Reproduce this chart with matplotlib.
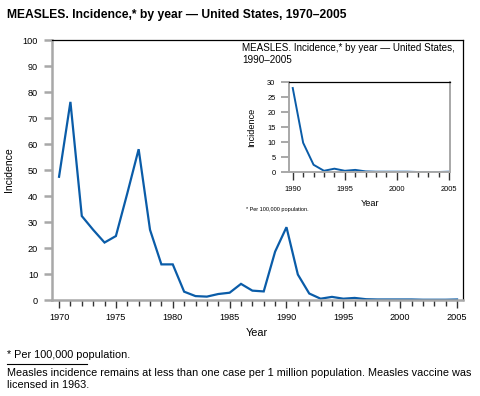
import matplotlib
matplotlib.use("Agg")
import matplotlib.pyplot as plt
from matplotlib.ticker import MultipleLocator

plt.rcParams['font.family'] = ['Liberation Sans', 'DejaVu Sans']

years = list(range(1970, 2006))
incidence = [47.4, 76.2, 32.3, 27.0, 22.1, 24.6, 41.0, 58.0, 27.0, 13.7,
             13.7, 3.2, 1.5, 1.3, 2.3, 2.8, 6.2, 3.6, 3.3, 18.6,
             28.0, 9.8, 2.5, 0.5, 1.2, 0.5, 0.8, 0.3, 0.2, 0.2,
             0.2, 0.2, 0.1, 0.1, 0.1, 0.2]

inset_years = years[20:]
inset_incidence = incidence[20:]

blue = '#0a5ca8'
gray = '#a8a8a8'

fig = plt.figure(figsize=(4.8, 3.96), dpi=100)

fig.text(7/480, 1-15/396, 'MEASLES. Incidence,* by year \u2014 United States, 1970\u20132005',
         fontsize=8.7, fontweight='bold', va='center', ha='left')


def style_axes(ax, ticklen, minorlen, fs, lw, pad):
    ax.spines['top'].set_color('black')
    ax.spines['top'].set_linewidth(0.9)
    ax.spines['left'].set_color(gray)
    ax.spines['left'].set_linewidth(lw)
    ax.spines['bottom'].set_color(gray)
    ax.spines['bottom'].set_linewidth(lw)
    ax.tick_params(axis='x', which='major', length=ticklen, width=1, color='#333333',
                   labelsize=fs, pad=pad, direction='out')
    ax.tick_params(axis='x', which='minor', length=minorlen, width=1, color='#333333',
                   direction='out')
    ax.tick_params(axis='y', which='major', length=ticklen, width=lw, color=gray,
                   labelsize=fs, pad=4, direction='out')


# main chart
ax = fig.add_axes([52/480, 1-300/396, 410.5/480, 260/396])
ax.plot(years, incidence, color=blue, lw=1.6, solid_joinstyle='miter')
ax.set_xlim(1969.38, 2005.48)
ax.set_ylim(0, 100)
ax.xaxis.set_major_locator(MultipleLocator(5))
ax.xaxis.set_minor_locator(MultipleLocator(1))
ax.yaxis.set_major_locator(MultipleLocator(10))
style_axes(ax, 6, 4, 6.6, 1.8, 3)
ax.spines['right'].set_color('black')
ax.spines['right'].set_linewidth(0.9)
ax.set_xlabel('Year', fontsize=7.8, labelpad=5)
ax.set_ylabel('Incidence', fontsize=7.5, labelpad=6)

# inset chart
ins = fig.add_axes([289.3/480, 1-172.3/396, 160.7/480, 90.3/396])
ins.plot(inset_years, inset_incidence, color=blue, lw=1.4)
ins.set_xlim(1989.67, 2005.1)
ins.set_ylim(0, 30)
ins.xaxis.set_major_locator(MultipleLocator(5))
ins.xaxis.set_minor_locator(MultipleLocator(1))
ins.yaxis.set_major_locator(MultipleLocator(5))
style_axes(ins, 6, 3.5, 5.4, 1.4, 4)
ins.spines['right'].set_color(gray)
ins.spines['right'].set_linewidth(1.4)
ins.set_xlabel('Year', fontsize=6.6, labelpad=4)
ins.set_ylabel('Incidence', fontsize=6.6, labelpad=8)

fig.text(242/480, 1-54/396, 'MEASLES. Incidence,* by year \u2014 United States,\n1990\u20132005',
         fontsize=7.1, va='center', ha='left', linespacing=1.3)
fig.text(246/480, 1-209/396, '* Per 100,000 population.', fontsize=4,
         va='center', ha='left')

# footnotes
fig.text(7/480, 1-355/396, '* Per 100,000 population.', fontsize=7.8, va='center', ha='left')
fig.add_artist(plt.Line2D([7/480, 87/480], [1-364/396, 1-364/396], color='black', lw=0.8))
fig.text(7/480, 1-379/396,
         'Measles incidence remains at less than one case per 1 million population. Measles vaccine was\n'
         'licensed in 1963.', fontsize=7.8, va='center', ha='left', linespacing=1.2)

fig.savefig('out.png', dpi=100)
